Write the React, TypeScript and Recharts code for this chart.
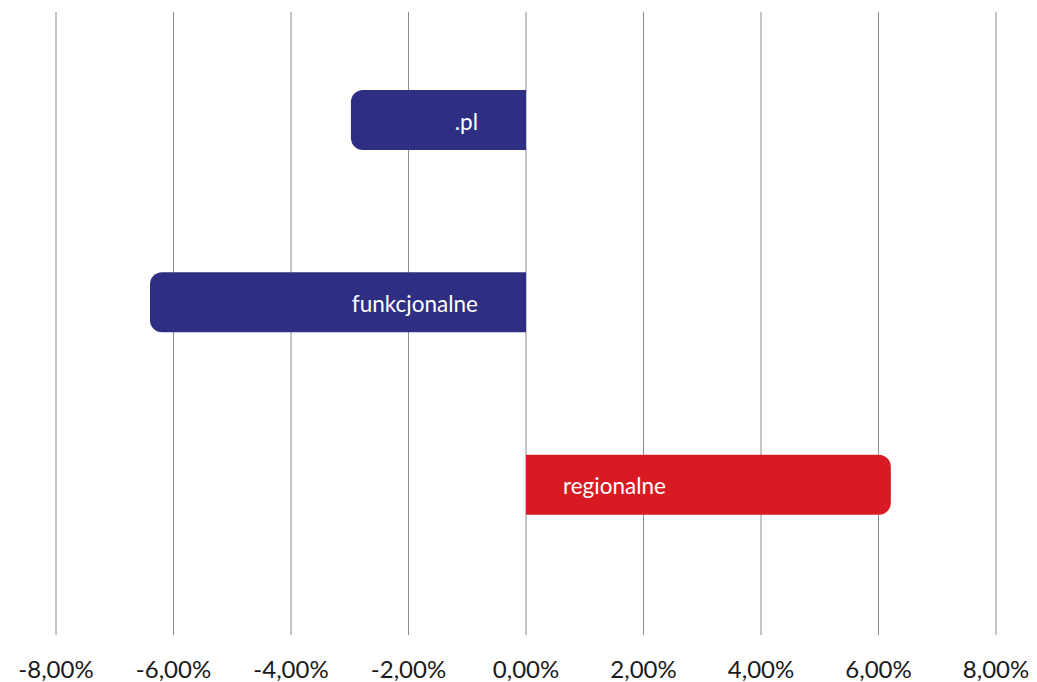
import React from "react";
import {
  BarChart,
  Bar,
  XAxis,
  YAxis,
  CartesianGrid,
  Cell,
  LabelList,
} from "recharts";

const categories = [".pl", "funkcjonalne", "regionalne"];
const changes = [-2.98, -6.4, 6.21];
const barColors = ["#2e2f82", "#2e2f82", "#d81b23"];
const xTicks = [-8, -6, -4, -2, 0, 2, 4, 6, 8];

const data = categories.map((name, i) => ({ name, value: changes[i] }));

const formatPct = (v: number) => v.toFixed(2).replace(".", ",") + "%";

const FONT = "Lato, 'Noto Sans', sans-serif";

function BarLabel(props: any) {
  const { x, y, width, height, value, index } = props;
  const left = Math.min(x, x + width);
  const right = Math.max(x, x + width);
  const negative = changes[index] < 0;
  const cy = y + height / 2;
  return (
    <text
      x={negative ? right - 48 : left + 37}
      y={cy + 4}
      textAnchor={negative ? "end" : "start"}
      dominantBaseline="middle"
      fill="#ffffff"
      fontSize={22.5}
      fontFamily={FONT}
    >
      {value}
    </text>
  );
}

export default function App() {
  return (
    <div style={{ width: 1037, height: 682, background: "#fff" }}>
      <style>{`body{margin:0}`}</style>
      <BarChart
        width={1037}
        height={682}
        data={data}
        layout="vertical"
        margin={{ top: 12, right: 41, bottom: 0, left: 56 }}
      >
        <CartesianGrid horizontal={false} stroke="#8c8c8c" />
        <XAxis
          type="number"
          domain={[-8, 8]}
          ticks={xTicks}
          tickFormatter={formatPct}
          axisLine={false}
          tickLine={false}
          tickSize={0}
          tickMargin={26}
          height={47}
          interval={0}
          tick={{ fill: "#1a1a1a", fontSize: 24, fontFamily: FONT }}
        />
        <YAxis
          type="category"
          dataKey="name"
          hide
          width={0}
          padding={{ top: 17, bottom: 59 }}
        />
        <Bar
          dataKey="value"
          barSize={60}
          radius={[0, 12, 12, 0]}
          isAnimationActive={false}
        >
          {data.map((_, i) => (
            <Cell key={`c-${i}`} fill={barColors[i]} />
          ))}
          <LabelList dataKey="name" content={BarLabel} />
        </Bar>
      </BarChart>
    </div>
  );
}
